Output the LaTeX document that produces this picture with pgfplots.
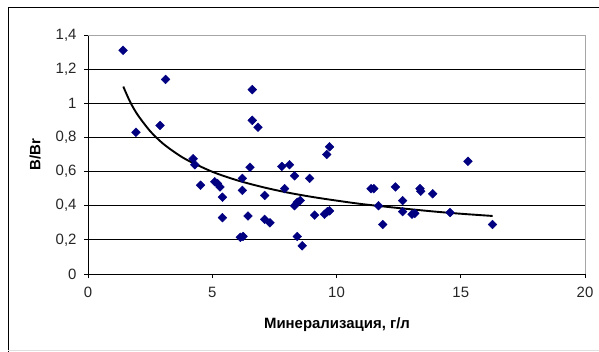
\documentclass[border=0pt]{standalone}
\usepackage{pgfplots}
\pgfplotsset{compat=1.18}
\usepackage{fontspec}
\setmainfont{Liberation Sans}
\definecolor{navyblue}{HTML}{000080}
\begin{document}
\begin{tikzpicture}[x=1bp,y=1bp]
\useasboundingbox (0,0) rectangle (599,351);
\begin{axis}[
  at={(88bp,77bp)}, anchor=south west,
  scale only axis, width=497bp, height=239bp,
  xmin=0, xmax=20, ymin=0, ymax=1.4,
  xtick={0,5,10,15,20}, ytick={0,0.2,0.4,0.6,0.8,1,1.2,1.4},
  axis x line*=bottom, axis y line*=left,
  axis line style={black, line width=0.8bp, -},
  tick align=outside, major tick length=4bp,
  tick style={black, line width=0.8bp},
  ymajorgrids, grid style={black, line width=0.8bp},
  /pgf/number format/assume math mode=true,
  /pgf/number format/use comma,
  ticklabel style={font=\fontsize{15}{17}\selectfont, text=black!85},
  yticklabel style={xshift=-4bp},
  xticklabel style={yshift=-6bp},
  xlabel={Минерализация, г/л},
  ylabel={B/Br},
  label style={font=\fontsize{15}{17}\selectfont\bfseries},
  xlabel style={at={(axis description cs:0.501,-0.2134)}, anchor=center},
  ylabel style={at={(axis description cs:-0.1066,0.5)}, anchor=center},
  clip=false,
]
\addplot[only marks, mark=square*, mark size=3.1bp, mark options={rotate=45}, color=navyblue] coordinates {
(1.41,1.31) (1.93,0.83) (2.90,0.87) (3.12,1.14) (4.23,0.675) (4.30,0.64)
(4.53,0.52) (5.10,0.54) (5.21,0.53) (5.31,0.51) (5.41,0.45) (5.41,0.33)
(6.13,0.215) (6.24,0.22) (6.21,0.56) (6.21,0.49) (6.44,0.34) (6.52,0.625)
(6.61,1.08) (6.61,0.90) (6.84,0.86) (7.11,0.46) (7.11,0.32) (7.32,0.30)
(7.80,0.63) (7.91,0.50) (8.11,0.64) (8.31,0.575) (8.31,0.40) (8.42,0.42)
(8.54,0.43) (8.42,0.22) (8.62,0.165) (8.92,0.56) (9.12,0.345) (9.52,0.35)
(9.63,0.365) (9.72,0.37) (9.61,0.70) (9.72,0.745) (11.39,0.50) (11.50,0.50)
(11.69,0.40) (11.86,0.29) (12.37,0.51) (12.66,0.43) (12.66,0.365) (13.04,0.35)
(13.15,0.355) (13.36,0.50) (13.39,0.485) (13.87,0.47) (14.57,0.36) (15.29,0.66)
(16.28,0.29)
};
\addplot[black, line width=1.9bp, smooth] coordinates {
(1.42,1.098) (1.7,1.007) (2,0.932) (2.5,0.837) (3,0.766) (3.5,0.712) (4,0.667)
(5,0.599) (6,0.549) (7,0.510) (8,0.478) (9,0.452) (10,0.430) (11,0.410)
(12,0.394) (13,0.379) (14,0.365) (15,0.353) (16.28,0.340)
};
\draw[gray!70, line width=0.8bp] (rel axis cs:0,1) -- (rel axis cs:1,1) -- (rel axis cs:1,0);
\end{axis}
\draw[black, line width=1bp] (8,-2) -- (8,343) -- (602,343);
\draw[gray!25, line width=0.8bp] (8,0.5) -- (599,0.5);
\end{tikzpicture}
\end{document}
